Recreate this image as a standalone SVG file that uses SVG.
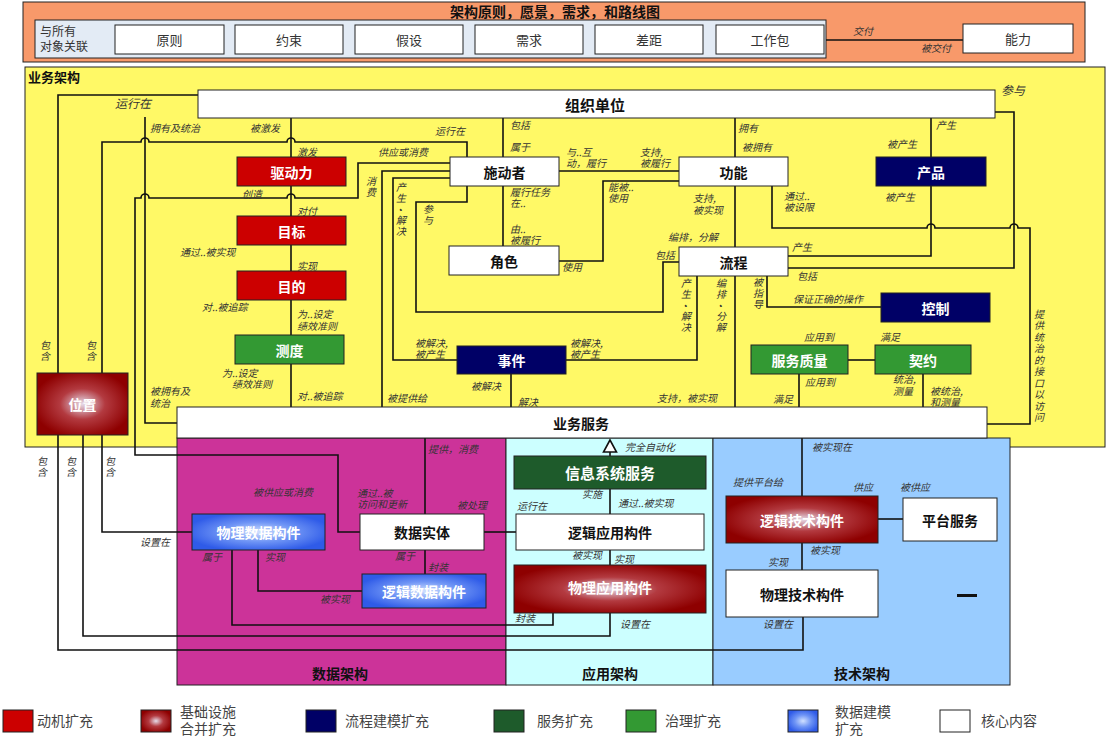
<svg xmlns="http://www.w3.org/2000/svg" width="1109" height="741" viewBox="0 0 1109 741">
<defs>
<radialGradient id="gRed" cx="50%" cy="50%" r="55%">
<stop offset="0%" stop-color="#E6DCEA"/>
<stop offset="45%" stop-color="#B33A40"/>
<stop offset="100%" stop-color="#8E0000"/>
</radialGradient>
<radialGradient id="gBlue" cx="50%" cy="50%" r="55%">
<stop offset="0%" stop-color="#D0E0FF"/>
<stop offset="50%" stop-color="#6E94F5"/>
<stop offset="100%" stop-color="#2F5BE8"/>
</radialGradient>
<style>
.b{stroke:#222;stroke-width:1}
.w{fill:#fff}
.red{fill:#CC0000}
.navy{fill:#000066}
.grn{fill:#339933}
.dg{fill:#1E5B2B}
.t{font-family:"Noto Sans CJK SC","Noto Sans",sans-serif;font-weight:bold;font-size:14px;text-anchor:middle;dominant-baseline:central;fill:#111}
.tw{fill:#fff}
.tn{font-weight:normal;font-size:13px;fill:#333}
.l{font-family:"Noto Sans CJK SC","Noto Sans",sans-serif;font-size:10px;font-style:italic;fill:#333}
.v{writing-mode:vertical-rl;letter-spacing:1px}
.lg{font-family:"Noto Sans CJK SC","Noto Sans",sans-serif;font-size:14px;fill:#444}
.c{fill:none;stroke:#111;stroke-width:1.6}
</style>
</defs>

<!-- backgrounds -->
<g id="top-frame">
<rect x="23" y="2" width="1062" height="60" fill="#F8996A" class="b"/>
<text class="t" x="555" y="11">架构原则，愿景，需求，和路线图</text>
<rect x="35" y="20" width="791" height="38" fill="#E3EBF5" class="b"/>
<text class="l" x="40" y="36" style="font-style:normal;font-size:12px">与所有<tspan x="40" dy="15">对象关联</tspan></text>
</g>
<g id="business-frame">
<rect x="25" y="67" width="1080" height="380" fill="#FFF966" class="b"/>
<text class="t" x="28" y="76" style="text-anchor:start;font-size:13px">业务架构</text>
</g>
<g id="panels">
<rect x="177" y="438" width="329" height="247" fill="#CC3399" class="b"/>
<rect x="506" y="438" width="207" height="247" fill="#CCFFFF" class="b"/>
<rect x="713" y="438" width="297" height="247" fill="#99CCFF" class="b"/>
<text class="t" x="340" y="673">数据架构</text>
<text class="t" x="610" y="673">应用架构</text>
<text class="t" x="862" y="673">技术架构</text>
</g>

<!-- connectors -->
<g id="connectors" class="c">
<path d="M826,40 H963"/>
<path d="M58,373 V95 H198"/>
<path d="M102,373 V142 H141 A4,4 0 0 1 149,142 H287 A4,4 0 0 1 295,142 H467 V157"/>
<path d="M145,117 V423 H177"/>
<path d="M291,117 V407"/>
<path d="M360,532 H338 V455 H135 V198 H141 A4,4 0 0 1 149,198 H287 A4,4 0 0 1 295,198 H358 V163 H450"/>
<path d="M450,171 H382 V407"/>
<path d="M450,178 H393 V360 H457"/>
<path d="M467,186 V202 H416 V312 H663 V262 H679"/>
<path d="M503,117 V246"/>
<path d="M559,171 H679"/>
<path d="M559,261 H603 V181 H679"/>
<path d="M735,117 V407"/>
<path d="M697,276 V360 H566"/>
<path d="M772,186 V228 H927 A4,4 0 0 1 935,228 H1010 A4,4 0 0 1 1018,228 H1030 V424 H987"/>
<path d="M995,112 H1014 V268 H788"/>
<path d="M931,117 V157"/>
<path d="M788,256 H931 V186"/>
<path d="M767,276 V307 H881"/>
<path d="M848,360 H875"/>
<path d="M799,374 V407"/>
<path d="M923,374 V407"/>
<path d="M511,374 V407"/>
<path d="M425,438 V514"/>
<path d="M610,456 V452"/>
<path d="M610,489 V514"/>
<path d="M610,550 V565"/>
<path d="M484,532 H516"/>
<path d="M425,550 V574"/>
<path d="M258,550 V591 H362"/>
<path d="M232,550 V625 H553 V613"/>
<path d="M102,435 V532 H192"/>
<path d="M83,435 V636 H610 V613"/>
<path d="M58,435 V650 H803 V617"/>
<path d="M802,438 V496"/>
<path d="M878,519 H903"/>
<path d="M802,543 V570"/>
<path d="M610,440 L603.5,452 H616.5 Z" fill="#fff"/>
</g>

<!-- nodes -->
<g id="n-yuanze"><rect x="115" y="25" width="109" height="29" class="b w"/><text class="t tn" x="169.5" y="39.5">原则</text></g>
<g id="n-yueshu"><rect x="235" y="25" width="108" height="29" class="b w"/><text class="t tn" x="289" y="39.5">约束</text></g>
<g id="n-jiashe"><rect x="355" y="25" width="108" height="29" class="b w"/><text class="t tn" x="409" y="39.5">假设</text></g>
<g id="n-xuqiu"><rect x="475" y="25" width="108" height="29" class="b w"/><text class="t tn" x="529" y="39.5">需求</text></g>
<g id="n-chaju"><rect x="595" y="25" width="108" height="29" class="b w"/><text class="t tn" x="649" y="39.5">差距</text></g>
<g id="n-gongzuobao"><rect x="716" y="25" width="108" height="29" class="b w"/><text class="t tn" x="770" y="39.5">工作包</text></g>
<g id="n-nengli"><rect x="963" y="24" width="110" height="29" class="b w"/><text class="t tn" x="1018" y="38.5">能力</text></g>

<g id="n-zuzhi"><rect x="198" y="90" width="797" height="28" class="b w"/><text class="t" x="595" y="104" style="font-size:15px">组织单位</text></g>
<g id="n-qudongli"><rect x="237" y="157" width="109" height="29" class="b red"/><text class="t tw" x="291.5" y="171.5">驱动力</text></g>
<g id="n-mubiao"><rect x="237" y="216" width="109" height="29" class="b red"/><text class="t tw" x="291.5" y="230.5">目标</text></g>
<g id="n-mudi"><rect x="237" y="271" width="109" height="29" class="b red"/><text class="t tw" x="291.5" y="285.5">目的</text></g>
<g id="n-cedu"><rect x="235" y="335" width="109" height="29" class="b grn"/><text class="t tw" x="289.5" y="349.5">测度</text></g>
<g id="n-shidongzhe"><rect x="450" y="157" width="109" height="29" class="b w"/><text class="t" x="504.5" y="171.5">施动者</text></g>
<g id="n-juese"><rect x="449" y="246" width="110" height="29" class="b w"/><text class="t" x="504" y="260.5">角色</text></g>
<g id="n-gongneng"><rect x="679" y="157" width="109" height="29" class="b w"/><text class="t" x="733.5" y="171.5">功能</text></g>
<g id="n-liucheng"><rect x="679" y="247" width="109" height="29" class="b w"/><text class="t" x="733.5" y="261.5">流程</text></g>
<g id="n-chanpin"><rect x="876" y="157" width="110" height="29" class="b navy"/><text class="t tw" x="931" y="171.5">产品</text></g>
<g id="n-kongzhi"><rect x="881" y="293" width="109" height="29" class="b navy"/><text class="t tw" x="935.5" y="307.5">控制</text></g>
<g id="n-shijian"><rect x="457" y="346" width="109" height="28" class="b navy"/><text class="t tw" x="511.5" y="360">事件</text></g>
<g id="n-fuwuzhiliang"><rect x="751" y="345" width="97" height="29" class="b grn"/><text class="t tw" x="799.5" y="359.5">服务质量</text></g>
<g id="n-qiyue"><rect x="875" y="345" width="96" height="29" class="b grn"/><text class="t tw" x="923" y="359.5">契约</text></g>
<g id="n-weizhi"><rect x="37" y="373" width="91" height="62" class="b" fill="url(#gRed)"/><text class="t tw" x="82.5" y="404">位置</text></g>
<g id="n-yewufuwu"><rect x="177" y="407" width="810" height="31" class="b w"/><text class="t" x="581" y="422.5">业务服务</text></g>
<g id="n-xinxi"><rect x="514" y="456" width="192" height="33" class="b dg"/><text class="t tw" x="610" y="472.5" style="font-size:15px">信息系统服务</text></g>
<g id="n-wulishuju"><rect x="192" y="514" width="133" height="36" class="b" fill="url(#gBlue)"/><text class="t tw" x="258.5" y="532">物理数据构件</text></g>
<g id="n-shujushiti"><rect x="360" y="514" width="124" height="36" class="b w"/><text class="t" x="422" y="532">数据实体</text></g>
<g id="n-luojiyingyong"><rect x="516" y="514" width="188" height="36" class="b w"/><text class="t" x="610" y="532">逻辑应用构件</text></g>
<g id="n-luojishuju"><rect x="362" y="574" width="124" height="34" class="b" fill="url(#gBlue)"/><text class="t tw" x="424" y="591">逻辑数据构件</text></g>
<g id="n-wuliyingyong"><rect x="514" y="565" width="192" height="48" class="b" fill="url(#gRed)"/><text class="t tw" x="610" y="587">物理应用构件</text></g>
<g id="n-luojijishu"><rect x="726" y="496" width="152" height="47" class="b" fill="url(#gRed)"/><text class="t tw" x="802" y="519.5">逻辑技术构件</text></g>
<g id="n-pingtai"><rect x="903" y="498" width="94" height="43" class="b w"/><text class="t" x="950" y="519.5">平台服务</text></g>
<g id="n-wulijishu"><rect x="726" y="570" width="152" height="47" class="b w"/><text class="t" x="802" y="593.5">物理技术构件</text></g>
<g id="dash"><rect x="957" y="594" width="20" height="3" fill="#111"/></g>

<!-- connector labels -->
<g id="labels" class="l">
<text x="853" y="35">交付</text>
<text x="921" y="52">被交付</text>
<text x="115" y="108" style="font-size:12px">运行在</text>
<text x="1001" y="95" style="font-size:12px">参与</text>
<text x="150" y="132">拥有及统治</text>
<text x="250" y="132">被激发</text>
<text x="435" y="135">运行在</text>
<text x="378" y="156">供应或消费</text>
<text x="297" y="156">激发</text>
<text x="242" y="198">创造</text>
<text class="v" x="371" y="176">消费</text>
<text class="v" x="401" y="182">产生·解决</text>
<text class="v" x="428" y="204">参与</text>
<text x="510" y="129">包括</text>
<text x="510" y="151">属于</text>
<text x="566" y="156">与..互<tspan x="566" dy="11">动，履行</tspan></text>
<text x="640" y="156">支持,<tspan x="640" dy="11">被履行</tspan></text>
<text x="510" y="196">履行任务<tspan x="510" dy="11">在..</tspan></text>
<text x="510" y="233">由..<tspan x="510" dy="11">被履行</tspan></text>
<text x="608" y="191">能被..<tspan x="608" dy="11">使用</tspan></text>
<text x="562" y="271">使用</text>
<text x="693" y="202">支持,<tspan x="693" dy="12">被实现</tspan></text>
<text x="668" y="241">编排，分解</text>
<text x="655" y="259">包括</text>
<text class="v" x="686" y="278">产生·解决</text>
<text class="v" x="721" y="278">编排·分解</text>
<text x="738" y="132">拥有</text>
<text x="742" y="151">被拥有</text>
<text x="784" y="200">通过..<tspan x="784" dy="11">被设限</tspan></text>
<text x="936" y="129">产生</text>
<text x="887" y="148">被产生</text>
<text x="885" y="201">被产生</text>
<text x="792" y="251">产生</text>
<text x="797" y="280">包括</text>
<text class="v" x="758" y="277">被指导</text>
<text x="793" y="303">保证正确的操作</text>
<text class="v" x="1039" y="309" style="letter-spacing:1.5px">提供统治的接口以访问</text>
<text x="297" y="215">对付</text>
<text x="180" y="256">通过..被实现</text>
<text x="297" y="270">实现</text>
<text x="202" y="311">对..被追踪</text>
<text x="297" y="318">为..设定<tspan x="297" dy="12">绩效准则</tspan></text>
<text x="222" y="377">为..设定<tspan x="232" dy="11">绩效准则</tspan></text>
<text x="297" y="400">对..被追踪</text>
<text x="150" y="395">被拥有及<tspan x="150" dy="12">统治</tspan></text>
<text class="v" x="45" y="340">包含</text>
<text class="v" x="91" y="340">包含</text>
<text class="v" x="42" y="456">包含</text>
<text class="v" x="71" y="456">包含</text>
<text class="v" x="110" y="456">包含</text>
<text x="253" y="496">被供应或消费</text>
<text x="357" y="497">通过..被<tspan x="357" dy="11">访问和更新</tspan></text>
<text x="140" y="546">设置在</text>
<text x="415" y="347">被解决,<tspan x="415" dy="11">被产生</tspan></text>
<text x="570" y="347">被解决,<tspan x="570" dy="11">被产生</tspan></text>
<text x="471" y="390">被解决</text>
<text x="518" y="406">解决</text>
<text x="387" y="402">被提供给</text>
<text x="657" y="402">支持，被实现</text>
<text x="804" y="341">应用到</text>
<text x="880" y="341">满足</text>
<text x="805" y="386">应用到</text>
<text x="773" y="403">满足</text>
<text x="893" y="383">统治,<tspan x="893" dy="12">测量</tspan></text>
<text x="930" y="395">被统治,<tspan x="930" dy="11">和测量</tspan></text>
<text x="625" y="451">完全自动化</text>
<text x="428" y="453">提供，消费</text>
<text x="457" y="509">被处理</text>
<text x="582" y="498">实施</text>
<text x="618" y="507">通过..被实现</text>
<text x="517" y="510">运行在</text>
<text x="812" y="451">被实现在</text>
<text x="733" y="486">提供平台给</text>
<text x="853" y="491">供应</text>
<text x="900" y="491">被供应</text>
<text x="810" y="554">被实现</text>
<text x="768" y="566">实现</text>
<text x="572" y="559">被实现</text>
<text x="614" y="563">实现</text>
<text x="395" y="560">属于</text>
<text x="428" y="571">封装</text>
<text x="202" y="561">属于</text>
<text x="265" y="561">实现</text>
<text x="320" y="603">被实现</text>
<text x="515" y="622">封装</text>
<text x="620" y="628">设置在</text>
<text x="763" y="628">设置在</text>
</g>

<!-- legend -->
<g id="legend">
<rect x="3" y="710" width="30" height="22" class="b red"/>
<text class="lg" x="37" y="726">动机扩充</text>
<rect x="141" y="710" width="30" height="22" class="b" fill="url(#gRed)"/>
<text class="lg" x="180" y="717">基础设施<tspan x="180" dy="17">合并扩充</tspan></text>
<rect x="306" y="710" width="30" height="22" class="b navy"/>
<text class="lg" x="345" y="726">流程建模扩充</text>
<rect x="494" y="710" width="30" height="22" class="b dg"/>
<text class="lg" x="537" y="726">服务扩充</text>
<rect x="626" y="710" width="30" height="22" class="b grn"/>
<text class="lg" x="665" y="726">治理扩充</text>
<rect x="788" y="710" width="30" height="22" class="b" fill="url(#gBlue)"/>
<text class="lg" x="835" y="717">数据建模<tspan x="835" dy="17">扩充</tspan></text>
<rect x="940" y="710" width="30" height="22" class="b w"/>
<text class="lg" x="981" y="726">核心内容</text>
</g>
</svg>
